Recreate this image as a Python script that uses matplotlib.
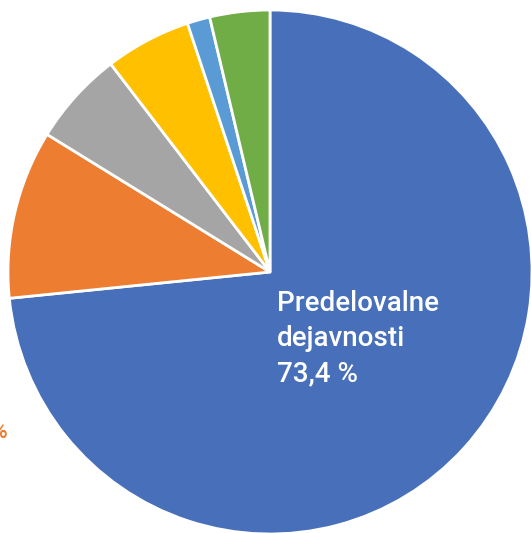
import matplotlib
matplotlib.use('Agg')
import matplotlib.pyplot as plt

sectors = ['Predelovalne dejavnosti', 'Sektor 2', 'Sektor 3', 'Sektor 4', 'Sektor 5', 'Sektor 6']
shares = [73.4, 10.4, 5.8, 5.3, 1.4, 3.7]
colors = ['#4870BA', '#ED7D31', '#A5A5A5', '#FFC000', '#5B9BD5', '#70AD47']

plt.rcParams['font.family'] = ['Roboto', 'DejaVu Sans']

fig = plt.figure(figsize=(5.31, 5.33), dpi=100)
ax = fig.add_axes([0, 0, 1, 1])

# pie centre at about (270, 272) px, radius about 262 px
r_px = 262.0
ax.pie(shares, colors=colors, startangle=90, counterclock=False, radius=1,
       wedgeprops=dict(edgecolor='white', linewidth=2))
ax.set_xlim(-270 / r_px, (531 - 270) / r_px)
ax.set_ylim(-(533 - 272) / r_px, 272 / r_px)
ax.set_aspect('equal')
ax.axis('off')

ax.text(7 / r_px, -18 / r_px, 'Predelovalne\ndejavnosti\n73,4 %', color='white',
        fontsize=20, fontweight='medium', ha='left', va='top', linespacing=1.4)

# orange label, mostly outside the picture
ax.text(-262 / r_px, -160 / r_px, '10,4 %', color='#ED7D31', fontsize=16,
        fontweight='medium', ha='right', va='center')

fig.savefig('out.png', dpi=100)
